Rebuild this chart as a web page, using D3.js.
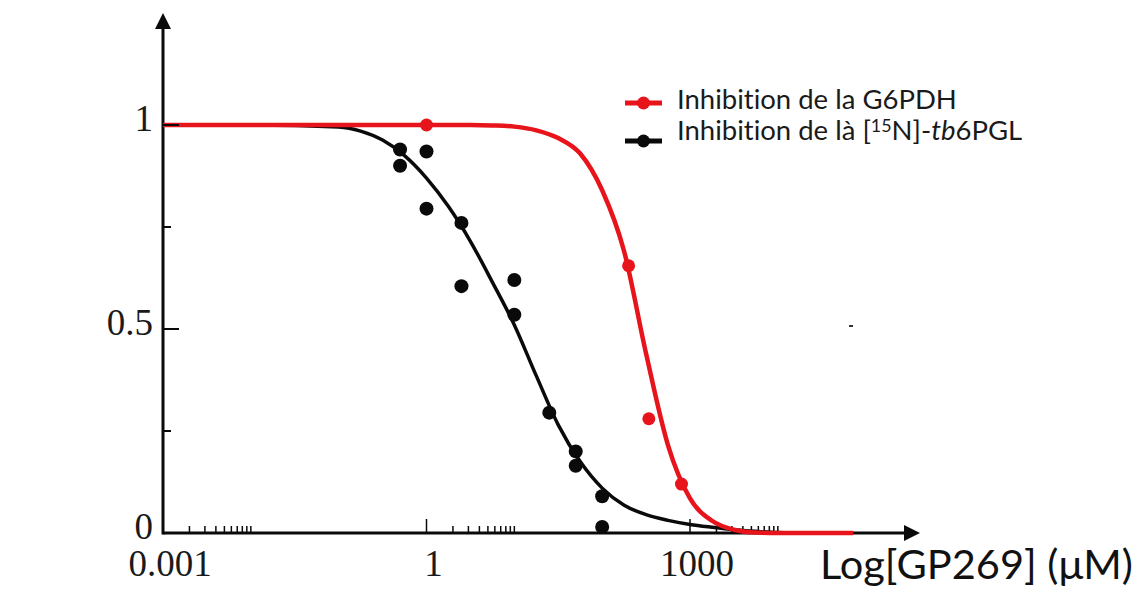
<!DOCTYPE html>
<html>
<head>
<meta charset="utf-8">
<script src="https://cdn.jsdelivr.net/npm/d3@7"></script>
<style>
  html, body { margin: 0; padding: 0; background: #ffffff; }
  svg { display: block; }
  text { font-variant-ligatures: none; font-feature-settings: "liga" 0, "clig" 0; }
</style>
</head>
<body>
<svg id="chart" width="1139" height="594"></svg>
<script>
// ---------------- DATA ----------------
const xTickValues = [0.001, 1, 1000];
const xTickLabels = ["0.001", "1", "1000"];
const xMinorTicks = [0.002, 0.003, 0.004, 0.005, 0.006, 0.007, 0.008, 0.009, 0.01,
                     2, 3, 4, 5, 6, 7, 8, 9, 10,
                     2000, 3000, 4000, 5000, 6000, 7000, 8000, 9000, 10000];
const yTickValues = [0, 0.5, 1];
const yTickLabels = ["0", "0.5", "1"];
const yMinorTicks = [0.25, 0.75];

// G6PDH inhibition (red) – measured points
const redX = [1, 200, 340, 800];
const redY = [1.0, 0.655, 0.28, 0.12];
// G6PDH fitted curve
const redCurveX = [0.001, 0.01, 0.1, 1, 3.16, 5.62, 10, 17.8, 31.6, 56.2, 100, 178, 316, 562, 1000, 1780, 3160, 5620, 10000, 72300];
const redCurveY = [1, 1, 1, 1, 1.0, 0.999, 0.996, 0.987, 0.968, 0.93, 0.84, 0.69, 0.44, 0.215, 0.085, 0.03, 0.008, 0.001, 0, 0];

// [15N]-tb6PGL inhibition (black) – measured points
const blackX = [0.5, 0.5, 1, 1, 2.5, 2.5, 10, 10, 25, 50, 50, 100, 100];
const blackY = [0.94, 0.90, 0.935, 0.795, 0.76, 0.605, 0.62, 0.535, 0.295, 0.20, 0.165, 0.09, 0.015];
// tb6PGL fitted curve
const blackCurveX = [0.001, 0.01, 0.1, 0.178, 0.316, 0.562, 1, 1.78, 3.16, 5.62, 10, 17.8, 31.6, 56.2, 100, 178, 316, 562, 1000, 1780, 3160, 5620, 10000, 23400];
const blackCurveY = [1, 1, 0.995, 0.985, 0.963, 0.925, 0.87, 0.80, 0.715, 0.615, 0.51, 0.385, 0.265, 0.175, 0.11, 0.068, 0.045, 0.031, 0.021, 0.014, 0.008, 0.004, 0.001, 0];

const legendLabels = ["Inhibition de la G6PDH", "Inhibition de là "];
const xTitle = "Log[GP269] (μM)";

// ---------------- CHART ----------------
const svg = d3.select("#chart");
svg.append("rect").attr("width", 1139).attr("height", 594).attr("fill", "#ffffff");

const x = d3.scaleLog().domain([0.001, 1000]).range([163, 690]);
const y = d3.scaleLinear().domain([0, 1]).range([533, 125]);

const RED = "#e8141b";
const BLACK = "#0a0a0a";
const serif = "'Liberation Serif', 'Times New Roman', serif";
const sans = "Lato, 'Open Sans', sans-serif";

const x0 = x(0.001), y0 = y(0);

// axis lines
svg.append("line").attr("x1", x0).attr("x2", 906).attr("y1", y0).attr("y2", y0)
  .attr("stroke", BLACK).attr("stroke-width", 3);
svg.append("path").attr("d", `M920,${y0} L904,${y0 - 8} L904,${y0 + 8} Z`).attr("fill", BLACK);
svg.append("line").attr("x1", x0).attr("x2", x0).attr("y1", y0 + 1.5).attr("y2", 28)
  .attr("stroke", BLACK).attr("stroke-width", 3);
svg.append("path").attr("d", `M${x0},13 L${x0 - 8},29 L${x0 + 8},29 Z`).attr("fill", BLACK);

// x ticks
const gx = svg.append("g");
gx.selectAll("line.minor").data(xMinorTicks).join("line").attr("class", "minor")
  .attr("x1", d => x(d)).attr("x2", d => x(d)).attr("y1", y0).attr("y2", y0 - 7)
  .attr("stroke", BLACK).attr("stroke-width", 1.5);
gx.selectAll("line.major").data(xTickValues.slice(1)).join("line").attr("class", "major")
  .attr("x1", d => x(d)).attr("x2", d => x(d)).attr("y1", y0).attr("y2", y0 - 14)
  .attr("stroke", BLACK).attr("stroke-width", 1.5);
gx.selectAll("text").data(xTickValues).join("text")
  .attr("x", d => x(d) + 7).attr("y", 576)
  .attr("text-anchor", "middle")
  .attr("font-family", serif).attr("font-size", 37).attr("fill", "#1a1a1a")
  .text((d, i) => xTickLabels[i]);

// curves
const line = d3.line().x(d => x(d[0])).y(d => y(d[1])).curve(d3.curveMonotoneX);
svg.append("path").datum(blackCurveX.map((v, i) => [v, blackCurveY[i]]))
  .attr("d", line).attr("fill", "none").attr("stroke", BLACK).attr("stroke-width", 3.5);
svg.selectAll("circle.black").data(blackX.map((v, i) => [v, blackY[i]])).join("circle")
  .attr("class", "black").attr("cx", d => x(d[0])).attr("cy", d => y(d[1])).attr("r", 7).attr("fill", BLACK);
svg.append("path").datum(redCurveX.map((v, i) => [v, redCurveY[i]]))
  .attr("d", line).attr("fill", "none").attr("stroke", RED).attr("stroke-width", 4.5);
svg.selectAll("circle.red").data(redX.map((v, i) => [v, redY[i]])).join("circle")
  .attr("class", "red").attr("cx", d => x(d[0])).attr("cy", d => y(d[1])).attr("r", 6.5).attr("fill", RED);

// y ticks
const gy = svg.append("g");
gy.selectAll("line.major").data([0.5, 1]).join("line").attr("class", "major")
  .attr("x1", x0).attr("x2", x0 + 16).attr("y1", d => y(d)).attr("y2", d => y(d))
  .attr("stroke", BLACK).attr("stroke-width", 2);
gy.selectAll("line.minor").data(yMinorTicks).join("line").attr("class", "minor")
  .attr("x1", x0).attr("x2", x0 + 8).attr("y1", d => y(d)).attr("y2", d => y(d))
  .attr("stroke", BLACK).attr("stroke-width", 2);
gy.selectAll("text").data(yTickValues).join("text")
  .attr("x", 153).attr("y", d => y(d) + 6)
  .attr("text-anchor", "end")
  .attr("font-family", serif).attr("font-size", 37).attr("fill", "#1a1a1a")
  .text((d, i) => yTickLabels[i]);

// small right-hand mark at 0.5
svg.append("line").attr("x1", 849).attr("x2", 853).attr("y1", y(0.5) - 3).attr("y2", y(0.5) - 3)
  .attr("stroke", "#333").attr("stroke-width", 2);

// legend
const legendRows = [{ color: RED, y: 103 }, { color: BLACK, y: 141 }];
legendRows.forEach(r => {
  svg.append("line").attr("x1", 625).attr("x2", 662).attr("y1", r.y).attr("y2", r.y)
    .attr("stroke", r.color).attr("stroke-width", 5);
  svg.append("circle").attr("cx", 643.5).attr("cy", r.y).attr("r", 6.5).attr("fill", r.color);
});
const t1 = svg.append("text").attr("x", 677).attr("y", 109)
  .attr("font-family", sans).attr("font-size", 20).attr("fill", "#1a1a1a").text(legendLabels[0]);
const w1 = t1.node().getComputedTextLength();
const fs = 20 * 280 / w1;
t1.attr("font-size", fs);
const t2 = svg.append("text").attr("x", 677).attr("y", 140)
  .attr("font-family", sans).attr("font-size", fs).attr("fill", "#1a1a1a");
t2.append("tspan").text(legendLabels[1] + "[");
t2.append("tspan").attr("font-size", fs * 0.65).attr("dy", -8).text("15");
t2.append("tspan").attr("dy", 8).text("N]-");
t2.append("tspan").attr("font-style", "italic").text("tb");
t2.append("tspan").text("6PGL");

// x-axis title
const tt = svg.append("text").attr("x", 820).attr("y", 579)
  .attr("font-family", sans).attr("font-size", 32).attr("fill", "#111").text(xTitle);
const wt = tt.node().getComputedTextLength();
tt.attr("font-size", 32 * 313 / wt);
</script>
</body>
</html>
